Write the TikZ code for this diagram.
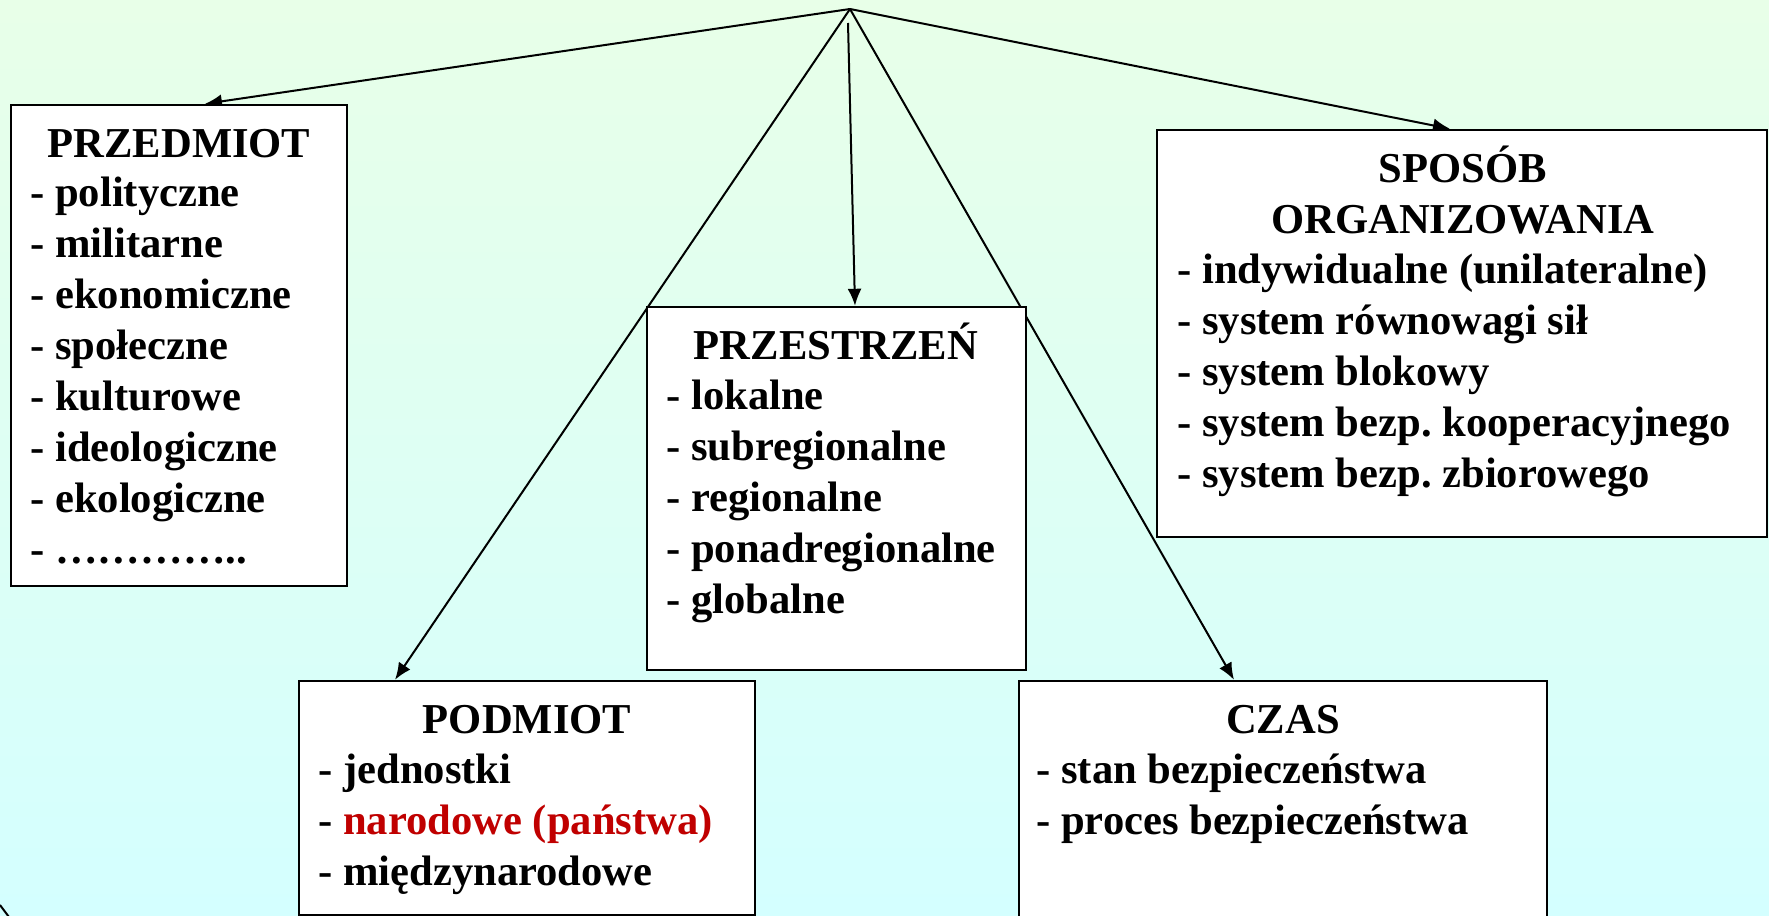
\documentclass[tikz,border=0pt]{standalone}
\usepackage{fontspec}
\setmainfont{Liberation Serif}
\usetikzlibrary{arrows.meta,fit}
\pgfdeclarelayer{bg}
\pgfdeclarelayer{conn}
\pgfsetlayers{bg,conn,main}
\definecolor{topc}{RGB}{232,255,232}
\definecolor{botc}{RGB}{212,255,255}
\definecolor{redt}{RGB}{192,0,0}
\frenchspacing
\begin{document}
\begin{tikzpicture}[x=0.5pt,y=-0.5pt,
  boxst/.style={draw=black, line width=1.2pt, fill=white, inner sep=0pt, rectangle},
  ttl/.style={font=\bfseries\fontsize{21.3}{25}\selectfont, inner sep=0pt, anchor=base},
  itm/.style={font=\bfseries\fontsize{21.3}{25}\selectfont, inner sep=0pt, anchor=base west},
  arr/.style={line width=1pt, -{Latex[length=8.5pt,width=7pt]}},
  ln/.style={line width=1pt}]
\useasboundingbox (0,0) rectangle (1769,916);
\begin{pgfonlayer}{bg}
\shade[top color=topc, bottom color=botc] (0,0) rectangle (1769,916);
\draw[ln] (0,905) -- (9,917);
\end{pgfonlayer}

% boxes
\node[boxst, fit={(11,105) (347,586)}] (bA) {};
\node[boxst, fit={(647,307) (1026,670)}] (bB) {};
\node[boxst, fit={(1157,130) (1767,537)}] (bC) {};
\node[boxst, fit={(299,681) (755,915)}] (bD) {};
\node[boxst, fit={(1019,681) (1547,922)}] (bE) {};

% connectors
\coordinate (apex) at (850,9);
\coordinate (vtop) at (848,23);
\coordinate (xa) at (205,0);
\coordinate (xb) at (855,0);
\coordinate (xc) at (1450,0);
\coordinate (xd) at (395,0);
\coordinate (xe) at (1234,0);
\begin{pgfonlayer}{conn}
\draw[arr] (apex) -- (xa |- bA.north);
\draw[arr] (vtop) -- (xb |- bB.north);
\draw[arr] (apex) -- (xc |- bC.north);
\draw[arr] (apex) -- (xd |- bD.north);
\draw[arr] (apex) -- (xe |- bE.north);
\end{pgfonlayer}

% titles
\node[ttl] (tA) at (179,157) {PRZEDMIOT};
\node[ttl] (tB) at (836,359) {PRZESTRZEŃ};
\node[ttl] (tC1) at (1463,182) {SPOSÓB};
\node[ttl] (tC2) at (1463,233) {ORGANIZOWANIA};
\node[ttl] (tD) at (527,733) {PODMIOT};
\node[ttl] (tE) at (1283,733) {CZAS};

% items
\foreach \t [count=\i] in {- polityczne,%
- militarne,%
- ekonomiczne,%
- społeczne,%
- kulturowe,%
- ideologiczne,%
- ekologiczne,%
- …………..}
  \node[itm] (pa\i) at (30,{206+51.1*(\i-1)}) {\t};

\foreach \t [count=\i] in {- lokalne,%
- subregionalne,%
- regionalne,%
- ponadregionalne,%
- globalne}
  \node[itm] (pb\i) at (666,{409+51*(\i-1)}) {\t};

\foreach \t [count=\i] in {- indywidualne (unilateralne),%
- system równowagi sił,%
- system blokowy,%
- system bezp. kooperacyjnego,%
- system bezp. zbiorowego}
  \node[itm] (pc\i) at (1177,{283+51*(\i-1)}) {\t};

\node[itm] (pd1) at (318,783) {- jednostki};
\node[itm] (pd2) at (318,834) {- \textcolor{redt}{narodowe (państwa)}};
\node[itm] (pd3) at (318,885) {- międzynarodowe};

\node[itm] (pe1) at (1036,783) {- stan bezpieczeństwa};
\node[itm] (pe2) at (1036,834) {- proces bezpieczeństwa};
\end{tikzpicture}
\end{document}
